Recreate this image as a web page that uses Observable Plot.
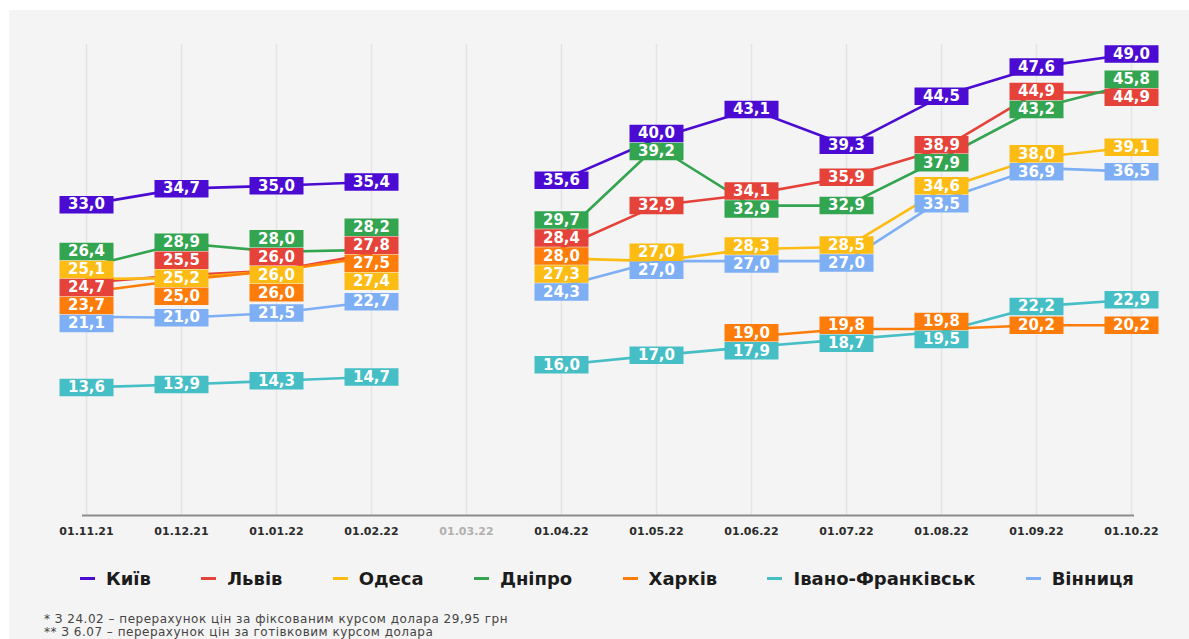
<!DOCTYPE html>
<html><head><meta charset="utf-8">
<script src="https://cdn.jsdelivr.net/npm/d3@7"></script>
<script src="https://cdn.jsdelivr.net/npm/@observablehq/plot@0.6"></script>
<style>
html,body{margin:0;padding:0;background:#fff;width:1189px;height:639px;overflow:hidden}
#panel{position:absolute;left:9px;top:10px;width:1180px;height:629px;background:#f4f4f4;overflow:hidden}
#chart{position:absolute;left:0;top:0}
#legend{position:absolute;left:71px;width:1054px;top:558px;display:flex;justify-content:space-between;font:bold 18px "DejaVu Sans",sans-serif;color:#1c1c1c;line-height:21px}
.item{display:flex;align-items:center}
.sw{width:15px;height:3px;margin-right:11px}
#notes{position:absolute;left:35px;top:603px;font:12px "DejaVu Sans",sans-serif;letter-spacing:0.5px;color:#444;line-height:13px;white-space:nowrap}
</style></head>
<body>
<div id="panel">
  <div id="chart"></div>
  <div id="legend"></div>
  <div id="notes"></div>
</div>
<script>
const dates = ["01.11.21","01.12.21","01.01.22","01.02.22","01.03.22","01.04.22","01.05.22","01.06.22","01.07.22","01.08.22","01.09.22","01.10.22"];
const mutedDate = "01.03.22";
const cities = ["Київ","Львів","Одеса","Дніпро","Харків","Івано-Франківськ","Вінниця"];
const colors = ["#4b0bd3","#e5423a","#fcbc14","#33a450","#fe7c0a","#46bec6","#7eaff5"];

const kyiv     = [33.0, 34.7, 35.0, 35.4, null, 35.6, 40.0, 43.1, 39.3, 44.5, 47.6, 49.0];
const lviv     = [24.7, 25.5, 26.0, 27.8, null, 28.4, 32.9, 34.1, 35.9, 38.9, 44.9, 44.9];
const odesa    = [25.1, 25.2, 26.0, 27.4, null, 27.3, 27.0, 28.3, 28.5, 34.6, 38.0, 39.1];
const dnipro   = [26.4, 28.9, 28.0, 28.2, null, 29.7, 39.2, 32.9, 32.9, 37.9, 43.2, 45.8];
const kharkiv  = [23.7, 25.0, 26.0, 27.5, null, 28.0, null, 19.0, 19.8, 19.8, 20.2, 20.2];
const ifrank   = [13.6, 13.9, 14.3, 14.7, null, 16.0, 17.0, 17.9, 18.7, 19.5, 22.2, 22.9];
const vinnytsia= [21.1, 21.0, 21.5, 22.7, null, 24.3, 27.0, 27.0, 27.0, 33.5, 36.9, 36.5];
const series = [kyiv, lviv, odesa, dnipro, kharkiv, ifrank, vinnytsia];

const notes = [
  "* З 24.02 – перерахунок цін за фіксованим курсом долара 29,95 грн",
  "** З 6.07 – перерахунок цін за готівковим курсом долара"
];

const rows = [];
series.forEach((vals, i) => vals.forEach((v, j) => rows.push({city: cities[i], order: i, color: colors[i], date: dates[j], value: v})));

// layout
const W = 1180, H = 540, mT = 34, mB = 35, mL = 73, mR = 55, yMax = 50;
const pxPerUnit = (H - mT - mB) / yMax;
const sep = 18 / pxPerUnit;

// label dodge per date (cluster centering)
const labels = [];
for (const d of dates) {
  const items = rows.filter(r => r.date === d && r.value != null).map(r => ({...r}));
  items.sort((a, b) => b.value - a.value || a.order - b.order);
  let clusters = items.map(it => ({items: [it]}));
  const center = c => d3.mean(c.items, x => x.value);
  const top = c => center(c) + (c.items.length - 1) * sep / 2;
  const bottom = c => center(c) - (c.items.length - 1) * sep / 2;
  let changed = true;
  while (changed) {
    changed = false;
    for (let i = 0; i < clusters.length - 1; i++) {
      if (bottom(clusters[i]) - top(clusters[i + 1]) < sep) {
        clusters.splice(i, 2, {items: clusters[i].items.concat(clusters[i + 1].items)});
        changed = true;
        break;
      }
    }
  }
  for (const c of clusters) {
    const t = top(c);
    c.items.forEach((it, k) => { it.ly = t - k * sep; labels.push(it); });
  }
}
labels.forEach(l => l.label = l.value.toFixed(1).replace(".", ","));

const box = {draw(ctx) { ctx.rect(-27, -8.75, 54, 17.5); }};

const chart = Plot.plot({
  width: W, height: H,
  marginTop: mT, marginBottom: mB, marginLeft: mL, marginRight: mR,
  style: {background: "transparent", overflow: "visible"},
  x: {type: "point", domain: dates, padding: 0, axis: null},
  y: {domain: [0, yMax], axis: null},
  color: {type: "identity"},
  marks: [
    Plot.ruleX(dates, {x: d => d, stroke: "#e4e4e4", strokeWidth: 1.5}),
    Plot.ruleY([0], {stroke: "#8c8c8c", strokeWidth: 2}),
    Plot.line(rows, {x: "date", y: "value", z: "city", stroke: d => d.color, strokeWidth: 2.6}),
    Plot.dot(labels, {x: "date", y: "ly", symbol: box, r: 5, fill: d => d.color, stroke: null}),
    Plot.text(labels, {x: "date", y: "ly", text: "label", fill: "white", fontWeight: "bold", fontSize: 15, fontFamily: "DejaVu Sans"}),
    Plot.text(dates, {x: d => d, text: d => d, frameAnchor: "bottom", dy: 19, fontSize: 11, fontWeight: "bold", fontFamily: "DejaVu Sans", fill: d => d === mutedDate ? "#b0b0b0" : "#2b2b2b"})
  ]
});
document.getElementById("chart").appendChild(chart);

const legend = document.getElementById("legend");
cities.forEach((c, i) => {
  const it = document.createElement("div");
  it.className = "item";
  it.innerHTML = `<span class="sw" style="background:${colors[i]}"></span><span>${c}</span>`;
  legend.appendChild(it);
});
document.getElementById("notes").innerHTML = notes.map(n => `<div>${n}</div>`).join("");
</script>
</body></html>
